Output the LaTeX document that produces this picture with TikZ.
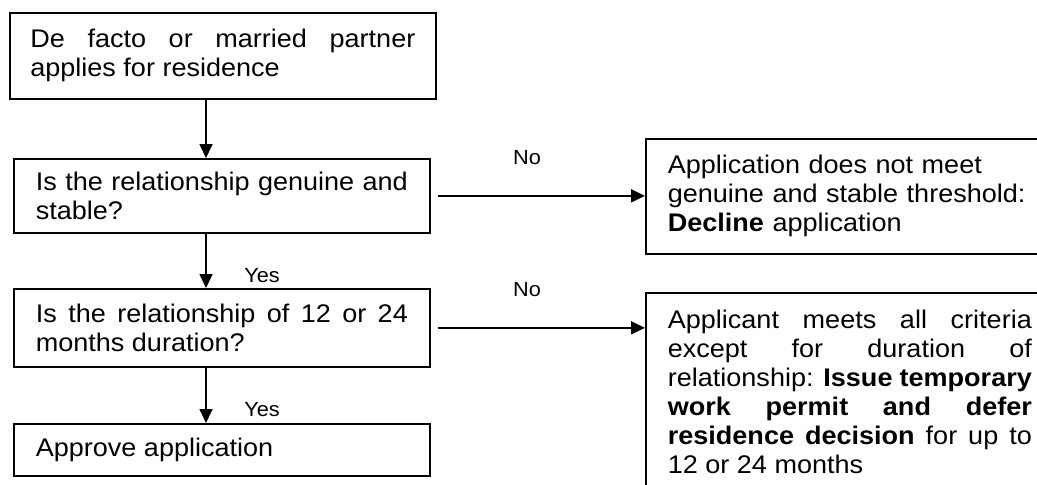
\documentclass[tikz,border=0pt]{standalone}
\usepackage{fontspec}
\setmainfont{Liberation Sans}[FakeStretch=1.06]
\usetikzlibrary{arrows.meta}
\hyphenpenalty=10000
\tolerance=10000

\begin{document}
\begin{tikzpicture} [
    x=1pt, y=-1pt,
    block/.style  = { rectangle, draw=black, line width=1.7pt, anchor=north west,
                      text width=372pt, inner xsep=22pt, inner ysep=0pt,
                      align=justify, font=\fontsize{25.5}{29}\selectfont},
    result/.style = { block, text width=364pt, align=left},
    line/.style   = { draw, line width=1.7pt, -{Triangle[length=14pt,width=13pt]}},
    answer/.style = { inner sep=0pt, font=\fontsize{20.5}{22}\selectfont},
  ]
  \useasboundingbox (0,0) rectangle (1037,485);

%Kaesten linke Spalte (Fragen)
  \node [block, text width=385pt, inner xsep=20.5pt, minimum height=86pt]
        (apply) at (9,12) {De facto or married partner applies for residence};
  \node [block, minimum height=74pt]
        (genuine) at (13,158) {Is the relationship genuine and stable?};
  \node [block, minimum height=78pt]
        (duration) at (13,288) {Is the relationship of 12 or 24 months duration?};
  \node [block, minimum height=52pt]
        (approve) at (13,423) {Approve application};

%Kaesten rechte Spalte (Ergebnisse)
  \node [result, minimum height=115pt]
        (decline) at (645,138) {Application does not meet genuine and stable
        threshold: \textbf{Decline} application};
  \node [result, align=justify, inner ysep=17pt]
        (defer) at (645,292) {Applicant meets all criteria except for duration of
        relationship: \textbf{Issue temporary work permit and defer residence
        decision} for up to 12 or 24 months\par\rule{0pt}{40pt}};

%senkrechte Pfeile (Ja)
  \coordinate (xa) at (206,0);
  \begin{scope} [every path/.style={line}]
   \path (apply.south -| xa) -- (genuine.north -| xa);
   \path (genuine.south -| xa) -- node [answer, pos=0.77, xshift=56pt] {Yes}
         (duration.north -| xa);
   \path (duration.south -| xa) -- node [answer, pos=0.75, xshift=56pt] {Yes}
         (approve.north -| xa);
  \end{scope}

%waagrechte Pfeile (Nein)
  \begin{scope} [every path/.style={line, shorten <=7pt}]
   \path (genuine.east) -- node [answer, pos=0.45, yshift=38pt] {No}
         (decline.west |- genuine.east);
   \path (duration.east) -- node [answer, pos=0.45, yshift=38pt] {No}
         (defer.west |- duration.east);
  \end{scope}
\end{tikzpicture}
\end{document}
